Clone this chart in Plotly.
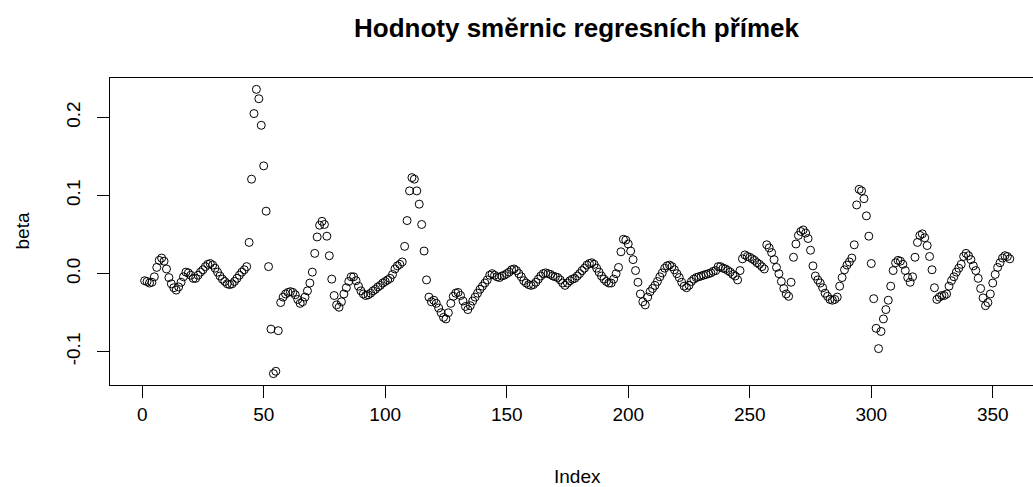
import plotly.graph_objects as go

# beta values by index, split in chunks
beta_001_050 = [-0.009, -0.010, -0.012, -0.011, -0.004, 0.008, 0.017, 0.020, 0.016, 0.006,
                -0.005, -0.013, -0.018, -0.021, -0.017, -0.011, -0.004, 0.002, 0.001, -0.002,
                -0.006, -0.006, -0.002, 0.002, 0.005, 0.009, 0.012, 0.013, 0.011, 0.007,
                0.002, -0.003, -0.007, -0.010, -0.013, -0.014, -0.013, -0.010, -0.006, -0.002,
                0.002, 0.005, 0.009, 0.040, 0.121, 0.205, 0.236, 0.224, 0.190, 0.138]
beta_051_100 = [0.080, 0.009, -0.071, -0.128, -0.125, -0.073, -0.037, -0.030, -0.026, -0.024,
                -0.023, -0.024, -0.027, -0.033, -0.038, -0.036, -0.030, -0.022, -0.012, 0.002,
                0.026, 0.047, 0.062, 0.067, 0.063, 0.048, 0.023, -0.007, -0.028, -0.040,
                -0.043, -0.036, -0.026, -0.018, -0.010, -0.004, -0.004, -0.009, -0.016, -0.022,
                -0.026, -0.028, -0.027, -0.025, -0.022, -0.020, -0.017, -0.015, -0.012, -0.010]
beta_101_150 = [-0.008, -0.006, -0.001, 0.006, 0.010, 0.012, 0.015, 0.035, 0.068, 0.106,
                0.123, 0.121, 0.106, 0.089, 0.063, 0.029, -0.008, -0.030, -0.036, -0.034,
                -0.038, -0.044, -0.050, -0.056, -0.058, -0.050, -0.038, -0.029, -0.025, -0.024,
                -0.028, -0.035, -0.042, -0.046, -0.041, -0.035, -0.030, -0.025, -0.020, -0.016,
                -0.012, -0.008, -0.002, 0.000, -0.002, -0.004, -0.005, -0.003, -0.002, 0.000]
beta_151_200 = [0.002, 0.005, 0.006, 0.004, 0.000, -0.004, -0.009, -0.012, -0.014, -0.015,
                -0.014, -0.011, -0.007, -0.003, 0.000, 0.001, 0.000, -0.001, -0.003, -0.004,
                -0.005, -0.008, -0.012, -0.015, -0.012, -0.009, -0.007, -0.006, -0.003, 0.000,
                0.004, 0.007, 0.011, 0.013, 0.014, 0.012, 0.007, 0.002, -0.003, -0.007,
                -0.010, -0.012, -0.012, -0.007, 0.000, 0.008, 0.028, 0.044, 0.043, 0.038]
beta_201_250 = [0.029, 0.018, 0.004, -0.011, -0.026, -0.036, -0.040, -0.030, -0.023, -0.019,
                -0.015, -0.010, -0.004, 0.001, 0.007, 0.010, 0.011, 0.009, 0.005, 0.000,
                -0.005, -0.011, -0.016, -0.018, -0.015, -0.010, -0.007, -0.005, -0.004, -0.003,
                -0.002, -0.001, 0.000, 0.001, 0.003, 0.004, 0.009, 0.009, 0.007, 0.006,
                0.004, 0.002, -0.001, -0.003, -0.008, 0.004, 0.019, 0.024, 0.022, 0.021]
beta_251_300 = [0.019, 0.017, 0.014, 0.012, 0.009, 0.006, 0.037, 0.033, 0.027, 0.018,
                0.008, 0.000, -0.010, -0.019, -0.026, -0.029, -0.011, 0.021, 0.038, 0.049,
                0.054, 0.056, 0.052, 0.045, 0.030, 0.010, -0.003, -0.008, -0.012, -0.018,
                -0.025, -0.029, -0.033, -0.034, -0.033, -0.030, -0.016, -0.005, 0.005, 0.011,
                0.015, 0.020, 0.037, 0.088, 0.108, 0.106, 0.096, 0.074, 0.048, 0.013]
beta_301_357 = [-0.032, -0.070, -0.096, -0.074, -0.058, -0.046, -0.034, -0.016, 0.004, 0.014,
                0.017, 0.016, 0.012, 0.004, -0.005, -0.011, -0.004, 0.021, 0.040, 0.049,
                0.051, 0.046, 0.036, 0.022, 0.005, -0.018, -0.033, -0.030, -0.028, -0.028,
                -0.026, -0.016, -0.009, -0.004, 0.002, 0.007, 0.012, 0.022, 0.026, 0.023,
                0.018, 0.010, 0.004, -0.006, -0.019, -0.031, -0.041, -0.037, -0.026, -0.012,
                -0.001, 0.008, 0.014, 0.020, 0.023, 0.022, 0.019]

beta = (beta_001_050 + beta_051_100 + beta_101_150 + beta_151_200 +
        beta_201_250 + beta_251_300 + beta_301_357)
index = list(range(1, len(beta) + 1))

x_tick_vals = [0, 50, 100, 150, 200, 250, 300, 350]
y_tick_vals = [-0.1, 0.0, 0.1, 0.2]
y_tick_text = ["-0.1", "0.0", "0.1", "0.2"]

title_text = "Hodnoty směrnic regresních přímek"
x_label = "Index"
y_label = "beta"

# ---- layout geometry (R base graphics look) ----
FIG_W, FIG_H = 1033, 487
BOX_L, BOX_T, BOX_B = 110, 78, 385
BOX_R_FULL = 1044.4          # R plot region right edge (cut by the image)

n = len(beta)
xlo = 1 - 0.04 * (n - 1)
xhi_full = n + 0.04 * (n - 1)
x_vis_hi = xlo + (xhi_full - xlo) * (FIG_W - BOX_L) / (BOX_R_FULL - BOX_L)
ymin, ymax = min(beta), max(beta)
ypad = 0.04 * (ymax - ymin)
x_mid = (xlo + xhi_full) / 2

FONT = "Liberation Sans, Arial, sans-serif"
AX_SIZE = 19

fig = go.Figure()
fig.add_trace(go.Scatter(
    x=index, y=beta, mode="markers",
    marker=dict(symbol="circle-open", size=8, color="black", line=dict(width=1, color="black")),
    hoverinfo="x+y", showlegend=False,
))

fig.update_layout(
    width=FIG_W, height=FIG_H,
    margin=dict(l=BOX_L, r=0, t=BOX_T, b=FIG_H - BOX_B, pad=0),
    paper_bgcolor="white", plot_bgcolor="white",
    font=dict(family=FONT, size=AX_SIZE, color="black"),
    xaxis=dict(range=[xlo, x_vis_hi], showgrid=False, zeroline=False,
               showline=True, linecolor="black", linewidth=1, mirror=True,
               ticks="outside", ticklen=12, tickwidth=1, tickcolor="black",
               tickvals=x_tick_vals, tickfont=dict(size=AX_SIZE)),
    yaxis=dict(range=[ymin - ypad, ymax + ypad], showgrid=False, zeroline=False,
               showline=True, linecolor="black", linewidth=1, mirror=False,
               ticks="outside", ticklen=12, tickwidth=1, tickcolor="black",
               tickvals=y_tick_vals, ticktext=y_tick_text, tickangle=-90,
               ticklabelstandoff=9, tickfont=dict(size=AX_SIZE)),
    annotations=[
        dict(text="<b>" + title_text + "</b>", xref="x", x=x_mid, yref="paper", y=1,
             yanchor="middle", xanchor="center", yshift=50, showarrow=False,
             font=dict(size=26, family=FONT, color="black")),
        dict(text=x_label, xref="x", x=x_mid, yref="paper", y=0,
             yanchor="middle", xanchor="center", yshift=-91, showarrow=False,
             font=dict(size=AX_SIZE, family=FONT, color="black")),
        dict(text=y_label, xref="paper", x=0, yref="paper", y=0.5, textangle=-90,
             xanchor="center", yanchor="middle", xshift=-88, showarrow=False,
             font=dict(size=AX_SIZE, family=FONT, color="black")),
    ],
)

fig.write_html("out.html")
